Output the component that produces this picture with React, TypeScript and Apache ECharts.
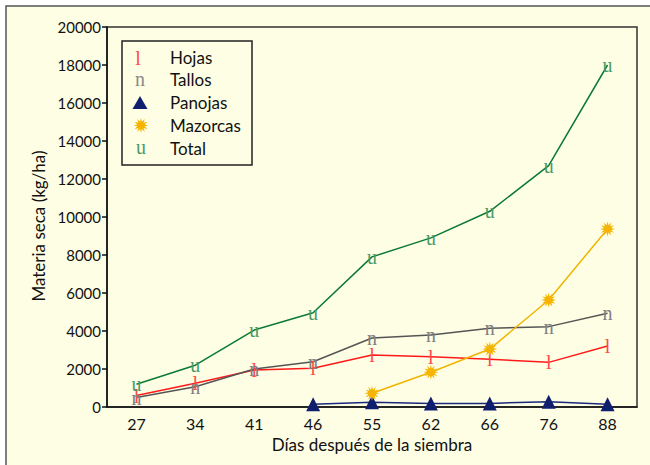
import React, { useEffect, useRef } from 'react';
import * as echarts from 'echarts';

const categories = ['27', '34', '41', '46', '55', '62', '66', '76', '88'];
const hojas = [600, 1250, 1950, 2040, 2740, 2650, 2510, 2350, 3210];
const tallos = [500, 1070, 2000, 2380, 3630, 3790, 4140, 4230, 4930];
const panojas = [null, null, null, 150, 250, 190, 190, 280, 140];
const mazorcas = [null, null, null, null, 720, 1830, 3050, 5630, 9370];
const total = [1200, 2200, 4050, 4960, 7900, 8900, 10300, 12700, 18000];
const seriesNames = ['Hojas', 'Tallos', 'Panojas', 'Mazorcas', 'Total'];
const yMin = 0;
const yMax = 20000;
const yInterval = 2000;

const FONT = 'Lato, "Open Sans", sans-serif';
const SERIF = '"Liberation Serif", "DejaVu Serif", serif';

function starPoints(cx: number, cy: number, r: number, n: number, inner: number) {
  const pts: number[][] = [];
  for (let i = 0; i < n * 2; i++) {
    const a = -Math.PI / 2 + (i * Math.PI) / n;
    const rr = i % 2 ? r * inner : r;
    pts.push([cx + rr * Math.cos(a), cy + rr * Math.sin(a)]);
  }
  return pts;
}

const starSymbol =
  'path://' +
  starPoints(50, 50, 50, 12, 0.5)
    .map((p, i) => (i ? 'L' : 'M') + p[0].toFixed(2) + ',' + p[1].toFixed(2))
    .join('') +
  'Z';

export default function App() {
  const ref = useRef<HTMLDivElement>(null);
  useEffect(() => {
    document.body.style.margin = '0';
    if (!ref.current) return;
    const chart = echarts.init(ref.current, null, { renderer: 'svg' });

    const glyphLabel = (ch: string, color: string) => ({
      show: true,
      position: 'inside',
      formatter: () => ch,
      color,
      fontFamily: SERIF,
      fontSize: 20,
      textBorderWidth: 0,
    });
    const hidden = { color: 'rgba(0,0,0,0)' };

    const legendX = 140;
    const legendTextX = 170;
    const rowY = (i: number) => 57 + i * 22.8;
    const glyphs: any[] = [
      { type: 'text', style: { text: 'l', x: legendX - 2, y: rowY(0) + 1, fill: '#ff4a4a', font: '20px ' + SERIF, align: 'center', verticalAlign: 'middle' } },
      { type: 'text', style: { text: 'n', x: legendX, y: rowY(1) - 1, fill: '#8a8a8a', font: '20px ' + SERIF, align: 'center', verticalAlign: 'middle' } },
      {
        type: 'polygon',
        shape: { points: [[legendX, rowY(2) - 6.5], [legendX - 7.5, rowY(2) + 6.5], [legendX + 7.5, rowY(2) + 6.5]] },
        style: { fill: '#0f1f6e' },
      },
      { type: 'polygon', shape: { points: starPoints(legendX + 1, rowY(3), 7.5, 12, 0.5) }, style: { fill: '#f5b400' } },
      { type: 'text', style: { text: 'u', x: legendX + 1, y: rowY(4) - 1, fill: '#4a9a68', font: '20px ' + SERIF, align: 'center', verticalAlign: 'middle' } },
    ];
    const legendTexts = seriesNames.map((n, i) => ({
      type: 'text',
      style: { text: n, x: legendTextX, y: rowY(i), fill: '#111', font: '17px ' + FONT, align: 'left', verticalAlign: 'middle' },
    }));

    chart.setOption({
      animation: false,
      backgroundColor: '#ffffff',
      textStyle: { fontFamily: FONT },
      graphic: [
        {
          type: 'rect',
          z: -10,
          silent: true,
          shape: { x: 6, y: 6, width: 700, height: 500 },
          style: { fill: '#FEFEE4', stroke: '#555', lineWidth: 1.5 },
        },
        {
          type: 'rect',
          z: 10,
          shape: { x: 122, y: 41, width: 130, height: 124 },
          style: { fill: 'none', stroke: '#222', lineWidth: 1.5 },
        },
        ...glyphs.map((g) => ({ ...g, z: 11 })),
        ...legendTexts.map((g) => ({ ...g, z: 11 })),
      ],
      grid: {
        left: 107,
        right: 13,
        top: 27,
        bottom: 58,
        show: true,
        borderColor: '#333',
        borderWidth: 1.5,
        backgroundColor: 'transparent',
      },
      xAxis: {
        type: 'category',
        data: categories,
        boundaryGap: true,
        name: 'Días después de la siembra',
        nameLocation: 'middle',
        nameGap: 26,
        nameTextStyle: { fontSize: 17, color: '#111', fontFamily: FONT },
        axisLine: { lineStyle: { color: '#111', width: 1.5 } },
        axisTick: { alignWithLabel: true, length: 5, lineStyle: { color: '#111', width: 1.5 } },
        axisLabel: { margin: 8, fontSize: 16, color: '#111', fontFamily: FONT },
        splitLine: { show: false },
      },
      yAxis: {
        type: 'value',
        min: yMin,
        max: yMax,
        interval: yInterval,
        name: 'Materia seca (kg/ha)',
        nameLocation: 'middle',
        nameGap: 60,
        nameTextStyle: { fontSize: 17, color: '#111', fontFamily: FONT, padding: [0, 18, 0, 0] },
        axisLine: { show: true, lineStyle: { color: '#111', width: 1.5 } },
        axisTick: { show: true, length: 5, lineStyle: { color: '#111', width: 1.5 } },
        axisLabel: { margin: 6, fontSize: 15, color: '#111', fontFamily: FONT, formatter: (v: number) => String(v) },
        splitLine: { show: false },
      },
      series: [
        {
          name: 'Hojas',
          type: 'line',
          data: hojas,
          symbol: 'circle',
          symbolSize: 2,
          itemStyle: hidden,
          lineStyle: { color: '#ff1a1a', width: 1.5 },
          label: glyphLabel('l', '#ff4a4a'),
          z: 3,
        },
        {
          name: 'Tallos',
          type: 'line',
          data: tallos,
          symbol: 'circle',
          symbolSize: 2,
          itemStyle: hidden,
          lineStyle: { color: '#555555', width: 1.5 },
          label: glyphLabel('n', '#808080'),
          z: 3,
        },
        {
          name: 'Panojas',
          type: 'line',
          data: panojas,
          symbol: 'triangle',
          symbolSize: 14,
          itemStyle: { color: '#0f1f6e' },
          lineStyle: { color: '#1a2a7a', width: 1.5 },
          z: 4,
        },
        {
          name: 'Mazorcas',
          type: 'line',
          data: mazorcas,
          symbol: starSymbol,
          symbolSize: 15,
          itemStyle: { color: '#f5b400' },
          lineStyle: { color: '#f0b400', width: 1.5 },
          z: 4,
        },
        {
          name: 'Total',
          type: 'line',
          data: total,
          symbol: 'circle',
          symbolSize: 2,
          itemStyle: hidden,
          lineStyle: { color: '#0a7a35', width: 1.5 },
          label: glyphLabel('u', '#4a9a68'),
          z: 3,
        },
      ],
    });
    return () => chart.dispose();
  }, []);
  return <div ref={ref} style={{ width: 650, height: 465 }} />;
}
